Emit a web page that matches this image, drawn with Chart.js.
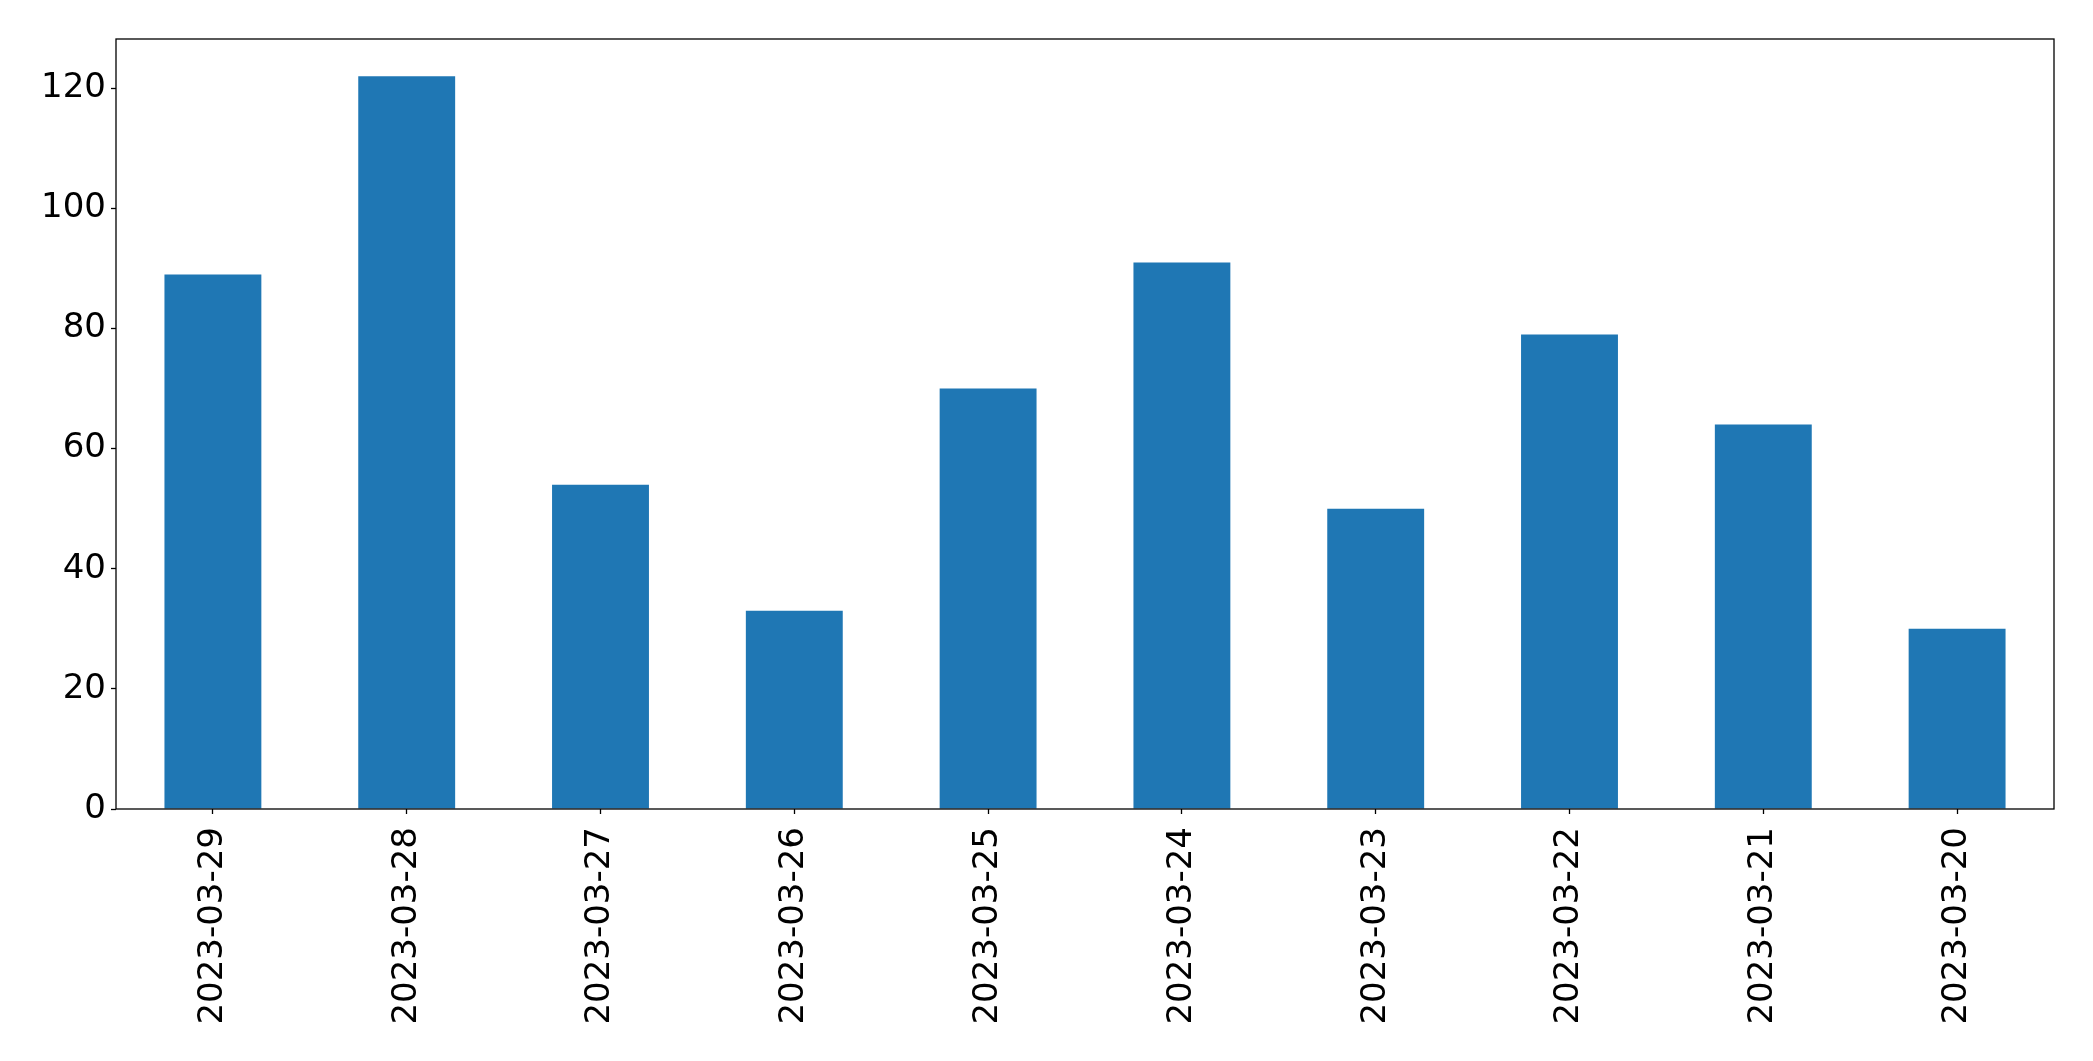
<!DOCTYPE html>
<html>
<head>
<meta charset="utf-8">
<script src="https://cdn.jsdelivr.net/npm/chart.js@4/dist/chart.umd.min.js"></script>
<style>
  html, body { margin: 0; padding: 0; background: #fff; }
  #wrap { width: 2093px; height: 1061px; }
</style>
</head>
<body>
<div id="wrap"><canvas id="barChart" width="2093" height="1061"></canvas></div>
<script>
// data
const dates = ['2023-03-29', '2023-03-28', '2023-03-27', '2023-03-26', '2023-03-25',
               '2023-03-24', '2023-03-23', '2023-03-22', '2023-03-21', '2023-03-20'];
const counts = [89, 122, 54, 33, 70, 91, 50, 79, 64, 30];
const yTicks = [0, 20, 40, 60, 80, 100, 120];

const fontFamily = '"DejaVu Sans", sans-serif';

// frame round the plot area (matplotlib style box)
const framePlugin = {
    id: 'frame',
    afterDraw(chart) {
        const a = chart.chartArea;
        const ctx = chart.ctx;
        ctx.save();
        ctx.strokeStyle = '#000';
        ctx.lineWidth = 1.3;
        ctx.strokeRect(a.left, a.top, a.right - a.left, a.bottom - a.top);
        ctx.restore();
    }
};

const ctx = document.getElementById('barChart').getContext('2d');
new Chart(ctx, {
    type: 'bar',
    data: {
        labels: dates,
        datasets: [{
            data: counts,
            backgroundColor: '#1f77b4',
            borderWidth: 0,
            barPercentage: 0.5,
            categoryPercentage: 1.0
        }]
    },
    options: {
        responsive: false,
        animation: false,
        layout: { padding: { top: 39, right: 39, left: 0, bottom: 0 } },
        plugins: {
            legend: { display: false },
            tooltip: { enabled: false }
        },
        scales: {
            x: {
                offset: true,
                grid: {
                    offset: false,
                    drawOnChartArea: false,
                    tickLength: 5,
                    tickColor: '#000',
                    tickWidth: 1.3
                },
                border: { display: false },
                ticks: {
                    color: '#000',
                    font: { family: fontFamily, size: 34 },
                    minRotation: 90,
                    maxRotation: 90,
                    autoSkip: false,
                    padding: 13
                },
                afterFit(scale) { scale.height = 1061 - 809; }
            },
            y: {
                min: 0,
                max: 128.2,
                afterBuildTicks(scale) {
                    scale.ticks = yTicks.map(v => ({ value: v }));
                },
                grid: {
                    drawOnChartArea: false,
                    tickLength: 5,
                    tickColor: '#000',
                    tickWidth: 1.3
                },
                border: { display: false },
                ticks: {
                    color: '#000',
                    font: { family: fontFamily, size: 34 },
                    padding: 5
                },
                afterFit(scale) { scale.width = 116; }
            }
        }
    },
    plugins: [framePlugin]
});
</script>
</body>
</html>
